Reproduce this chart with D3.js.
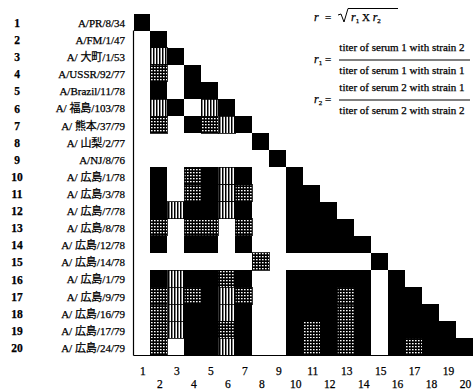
<!DOCTYPE html>
<html>
<head>
<meta charset="utf-8">
<script src="https://cdn.jsdelivr.net/npm/d3@7"></script>
<style>
  body { margin: 0; background: #fff; }
  svg { display: block; }
  text { font-family: "Liberation Serif", "Noto Sans CJK JP", serif; fill: #000; stroke: #000; stroke-width: 0.25; }
</style>
</head>
<body>
<div id="chart"></div>
<script>
// strain names, top to bottom
const strains = [
  'A/PR/8/34', 'A/FM/1/47', 'A/ 大町/1/53', 'A/USSR/92/77', 'A/Brazil/11/78',
  'A/ 福島/103/78', 'A/ 熊本/37/79', 'A/ 山梨/2/77', 'A/NJ/8/76', 'A/ 広島/1/78',
  'A/ 広島/3/78', 'A/ 広島/7/78', 'A/ 広島/8/78', 'A/ 広島/12/78', 'A/ 広島/14/78',
  'A/ 広島/1/79', 'A/ 広島/9/79', 'A/ 広島/16/79', 'A/ 広島/17/79', 'A/ 広島/24/79'
];
const rowNumbers = d3.range(1, 21);
const colNumbers = d3.range(1, 21);

// r class of each pair, row by row (column 1 .. row)
// B = solid, G = cross hatch, V = vertical hatch, W = blank
const cellRows = [
  'B',
  'WB',
  'WVB',
  'WGWB',
  'WBWBB',
  'WVBWVB',
  'WGWBGVB',
  'WWWWWWWB',
  'WWWWWWWWB',
  'WBWGBVBWWB',
  'WBWGBVGWWBB',
  'WBVBBVBWWBBB',
  'WGWGGWGWWBBBB',
  'WBWBBWBWWBBBBB',
  'WWWWWWWGWWWWWWB',
  'WBVBBGBWWBBBBBWB',
  'WGVGBVGWWBBBGBWBB',
  'WGVBBVBWWBBBGBWBBB',
  'WGVBBGBWWBGBGBWBBBB',
  'WGWBBVBWWBGBGBWBGBBB'
];

const width = 473, height = 389;

const svg = d3.select('#chart')
  .append('svg')
  .attr('width', width)
  .attr('height', height);

// hatch patterns
const defs = svg.append('defs');
const vert = defs.append('pattern')
  .attr('id', 'vert')
  .attr('patternUnits', 'userSpaceOnUse')
  .attr('width', 3).attr('height', 3);
vert.append('rect').attr('width', 3).attr('height', 3).attr('fill', '#fff');
vert.append('rect').attr('width', 1.5).attr('height', 3).attr('fill', '#000');

const grid = defs.append('pattern')
  .attr('id', 'grid')
  .attr('patternUnits', 'userSpaceOnUse')
  .attr('width', 3).attr('height', 3);
grid.append('rect').attr('width', 3).attr('height', 3).attr('fill', '#000');
grid.append('rect').attr('x', 1).attr('y', 1).attr('width', 1.6).attr('height', 1.3).attr('fill', '#fff');

const fillFor = { B: '#000', G: 'url(#grid)', V: 'url(#vert)' };

const x = d3.scaleBand().domain(colNumbers).range([133.5, 473]);
const y = d3.scaleBand().domain(rowNumbers).range([13.5, 355.5]);

// flatten the triangle
const cells = [];
cellRows.forEach((row, i) => {
  row.split('').forEach((k, j) => {
    if (k !== 'W') cells.push({ row: i + 1, col: j + 1, kind: k });
  });
});

svg.append('g')
  .selectAll('rect')
  .data(cells)
  .join('rect')
  .attr('x', d => x(d.col))
  .attr('y', d => y(d.row))
  .attr('width', x.bandwidth())
  .attr('height', y.bandwidth())
  .attr('fill', d => fillFor[d.kind])
  .attr('stroke', d => d.kind === 'B' ? 'none' : '#000')
  .attr('stroke-width', 0.8)
  .attr('shape-rendering', 'crispEdges');

// frame: left and bottom lines
const frame = svg.append('g').attr('stroke', '#000').attr('stroke-width', 1.2);
frame.append('line')
  .attr('x1', x(1)).attr('x2', x(1))
  .attr('y1', y(2)).attr('y2', y.range()[1]);
frame.append('line')
  .attr('x1', x(1)).attr('x2', width)
  .attr('y1', y.range()[1]).attr('y2', y.range()[1]);

// row labels
const rows = svg.append('g')
  .selectAll('g')
  .data(strains)
  .join('g')
  .attr('transform', (d, i) => `translate(0,${y(i + 1) + y.bandwidth() / 2 + 1})`);
rows.append('text')
  .attr('x', 17)
  .attr('dy', '0.35em')
  .attr('text-anchor', 'middle')
  .attr('font-size', 11.5)
  .attr('font-weight', 'bold')
  .text((d, i) => rowNumbers[i]);
rows.append('text')
  .attr('x', 125)
  .attr('dy', '0.35em')
  .attr('text-anchor', 'end')
  .attr('font-size', 11)
  .text(d => d);

// column labels, staggered
svg.append('g')
  .selectAll('text')
  .data(colNumbers)
  .join('text')
  .attr('x', d => x(d) + x.bandwidth() / 2 + 1)
  .attr('y', d => d % 2 ? 375 : 388)
  .attr('text-anchor', 'middle')
  .attr('font-size', 11.5)
  .text(d => d);

// formula
const f = svg.append('g').attr('font-size', 11);
f.append('text').attr('x', 314).attr('y', 21).attr('font-style', 'italic').attr('font-size', 12).text('r');
f.append('text').attr('x', 325).attr('y', 21).text('=');
f.append('path')
  .attr('d', 'M338,15 L341,14 L344,22 L348,8.5 L398,8.5')
  .attr('fill', 'none').attr('stroke', '#000').attr('stroke-width', 1);
const rad = f.append('text').attr('x', 351).attr('y', 21);
rad.append('tspan').attr('font-style', 'italic').attr('font-size', 12).text('r');
rad.append('tspan').attr('font-size', 7).attr('dy', 2).text('1');
rad.append('tspan').attr('dy', -2).text('  X  ');
rad.append('tspan').attr('font-style', 'italic').attr('font-size', 12).text('r');
rad.append('tspan').attr('font-size', 7).attr('dy', 2).text('2');

const fractions = [
  { sub: '1', top: 'titer of serum 1 with strain 2', bottom: 'titer of serum 1 with strain 1', y: 60 },
  { sub: '2', top: 'titer of serum 2 with strain 1', bottom: 'titer of serum 2 with strain 2', y: 100 }
];
fractions.forEach(fr => {
  const lab = f.append('text').attr('x', 314).attr('y', fr.y + 3);
  lab.append('tspan').attr('font-style', 'italic').attr('font-size', 12).text('r');
  lab.append('tspan').attr('font-size', 7).attr('dy', 2).text(fr.sub);
  lab.append('tspan').attr('dy', -2).text(' =');
  f.append('line')
    .attr('x1', 339).attr('x2', 470)
    .attr('y1', fr.y).attr('y2', fr.y)
    .attr('stroke', '#000').attr('stroke-width', 1);
  f.append('text').attr('x', 402).attr('y', fr.y - 9).attr('text-anchor', 'middle').text(fr.top);
  f.append('text').attr('x', 402).attr('y', fr.y + 14).attr('text-anchor', 'middle').text(fr.bottom);
});
</script>
</body>
</html>
